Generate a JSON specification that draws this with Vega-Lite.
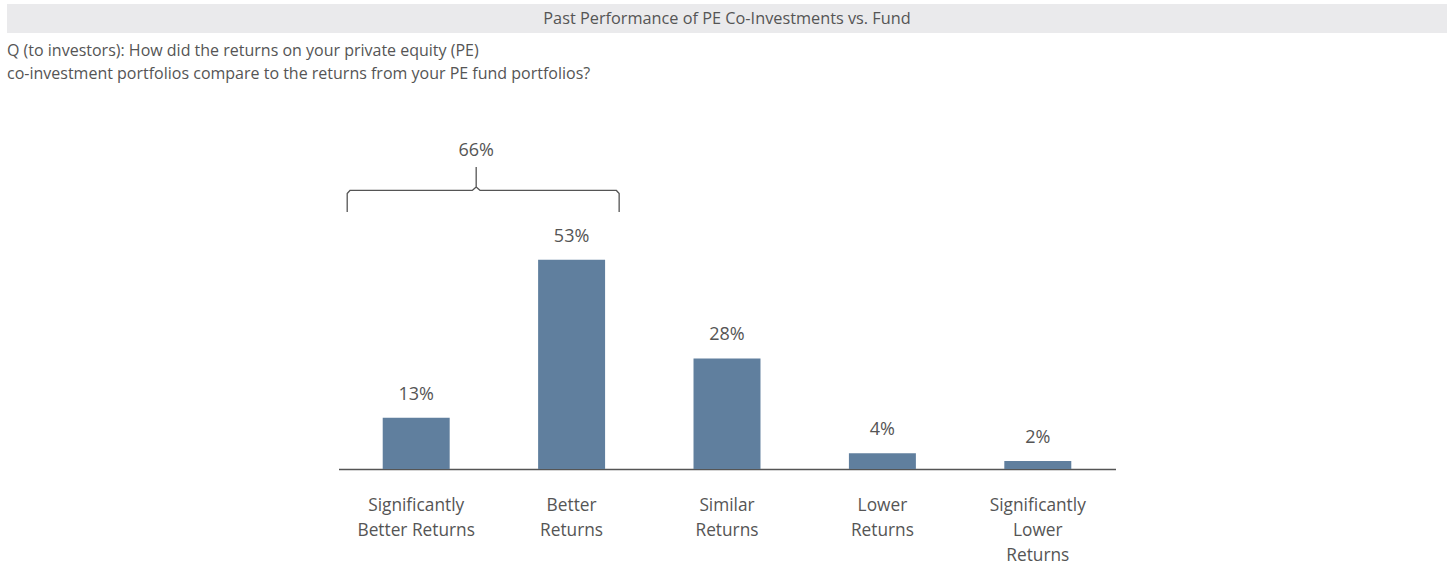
{
  "$schema": "https://vega.github.io/schema/vega-lite/v6.json",
  "padding": {"left": 7, "top": 4, "right": 6, "bottom": 0},
  "background": "white",
  "config": {
    "font": "Open Sans",
    "view": {"stroke": null},
    "text": {"font": "Open Sans", "color": "#555555"},
    "title": {"font": "Open Sans"}
  },
  "center": true,
  "spacing": 8,
  "vconcat": [
    {
      "width": 1440,
      "height": 29,
      "view": {"fill": "#eaeaec", "stroke": null},
      "data": {"values": [{"header": "Past Performance of PE Co-Investments vs. Fund"}]},
      "mark": {"type": "text", "fontSize": 16.3, "color": "#555555"},
      "encoding": {"text": {"field": "header"}},
      "title": {
        "text": ["Q (to investors): How did the returns on your private equity (PE)", "co-investment portfolios compare to the returns from your PE fund portfolios?"],
        "orient": "bottom",
        "anchor": "start",
        "fontSize": 16,
        "fontWeight": "normal",
        "color": "#555555",
        "offset": 10,
        "lineHeight": 23,
        "baseline": "top"
      }
    },
    {
      "width": 777,
      "height": 379,
      "resolve": {"scale": {"x": "independent"}, "axis": {"x": "independent"}},
      "layer": [
        {
          "data": {"values": [
            {"category": "Significantly|Better Returns", "share": 0.13},
            {"category": "Better|Returns", "share": 0.53},
            {"category": "Similar|Returns", "share": 0.28},
            {"category": "Lower|Returns", "share": 0.04},
            {"category": "Significantly|Lower|Returns", "share": 0.02}
          ]},
          "layer": [
            {
              "mark": {"type": "bar", "color": "#607f9e"},
              "encoding": {
                "x": {
                  "field": "category", "type": "nominal", "sort": null,
                  "scale": {"paddingInner": 0.569, "paddingOuter": 0.2845},
                  "axis": {
                    "title": null, "labelAngle": 0, "ticks": false,
                    "labelExpr": "split(datum.label, '|')",
                    "labelFontSize": 17.3, "labelColor": "#555555", "labelFont": "Open Sans",
                    "labelLineHeight": 25, "labelPadding": 27,
                    "domainColor": "#555555", "domainWidth": 1.5
                  }
                },
                "y": {"field": "share", "type": "quantitative", "scale": {"domain": [0, 0.96], "nice": false}, "axis": null}
              }
            },
            {
              "mark": {"type": "text", "fontSize": 18, "baseline": "middle", "dy": -23, "color": "#555555"},
              "encoding": {
                "x": {"field": "category", "type": "nominal", "sort": null},
                "y": {"field": "share", "type": "quantitative"},
                "text": {"field": "share", "type": "quantitative", "format": ".0%"}
              }
            }
          ]
        },
        {
          "data": {"values": [
            {"half": "left", "ord": 1, "bx": 0.056, "by": 0.651},
            {"half": "left", "ord": 2, "bx": 0.056, "by": 0.698},
            {"half": "left", "ord": 3, "bx": 0.075, "by": 0.706},
            {"half": "left", "ord": 4, "bx": 0.862, "by": 0.706},
            {"half": "left", "ord": 5, "bx": 0.886, "by": 0.714},
            {"half": "left", "ord": 6, "bx": 0.886, "by": 0.765},
            {"half": "right", "ord": 1, "bx": 1.806, "by": 0.651},
            {"half": "right", "ord": 2, "bx": 1.806, "by": 0.698},
            {"half": "right", "ord": 3, "bx": 1.787, "by": 0.706},
            {"half": "right", "ord": 4, "bx": 0.91, "by": 0.706},
            {"half": "right", "ord": 5, "bx": 0.886, "by": 0.714}
          ]},
          "mark": {"type": "line", "color": "#555555", "strokeWidth": 1.3, "strokeJoin": "round"},
          "encoding": {
            "x": {"field": "bx", "type": "quantitative", "scale": {"domain": [0, 5], "nice": false, "zero": false}, "axis": null},
            "y": {"field": "by", "type": "quantitative"},
            "detail": {"field": "half"},
            "order": {"field": "ord"}
          }
        },
        {
          "data": {"values": [{"bx": 0.886, "by": 0.805, "label": "66%"}]},
          "mark": {"type": "text", "fontSize": 18, "baseline": "middle", "color": "#555555"},
          "encoding": {
            "x": {"field": "bx", "type": "quantitative", "scale": {"domain": [0, 5], "nice": false, "zero": false}, "axis": null},
            "y": {"field": "by", "type": "quantitative"},
            "text": {"field": "label"}
          }
        }
      ]
    }
  ]
}
